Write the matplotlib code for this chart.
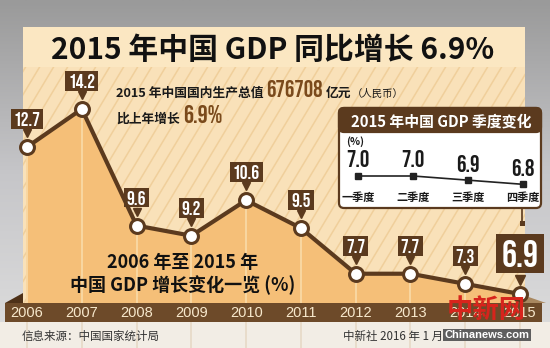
import os
import matplotlib
matplotlib.use("Agg")
import matplotlib.pyplot as plt
import numpy as np
from matplotlib import font_manager
from matplotlib.font_manager import FontProperties
from matplotlib.patches import Rectangle, FancyBboxPatch, Polygon
from matplotlib.colors import LinearSegmentedColormap
from matplotlib.transforms import offset_copy, blended_transform_factory

# data
years = [2006, 2007, 2008, 2009, 2010, 2011, 2012, 2013, 2014, 2015]
growth = [12.7, 14.2, 9.6, 9.2, 10.6, 9.5, 7.7, 7.7, 7.3, 6.9]
quarters = ["一季度", "二季度", "三季度", "四季度"]
q_growth = [7.0, 7.0, 6.9, 6.8]
gdp_total = "676708"
growth_2015 = "6.9%"

plt.rcParams['font.family'] = ['Noto Sans CJK SC', 'DejaVu Sans']

# a narrow bold face for the number boxes
files = {os.path.splitext(os.path.basename(f.fname))[0].lower(): f.fname
         for f in font_manager.fontManager.ttflist}
narrow_path = None
for key in ["leaguegothic-regular", "bebasneue-regular", "oswald-bold", "oswald-semibold",
            "sairaextracondensed-bold", "fjallaone-regular", "anton-regular",
            "barlowcondensed-bold", "firasansextracondensed-bold",
            "encodesanscondensed-bold", "dejavusanscondensed-bold"]:
    if key in files:
        narrow_path = files[key]
        break


def nf(size):
    if narrow_path:
        return FontProperties(fname=narrow_path, size=size)
    return FontProperties(family='DejaVu Sans', weight='bold', size=size)


BROWN = '#5b3a1e'
W, H = 550, 348

fig = plt.figure(figsize=(5.5, 3.48), dpi=100)

# background layer in pixel coords
bg = fig.add_axes([0, 0, 1, 1], zorder=0)
cmap = LinearSegmentedColormap.from_list('g', ['#9a9a9a', '#c6c6c9', '#dedede'])
bg.imshow(np.linspace(0, 1, 200).reshape(-1, 1), extent=[0, W, H, 0], cmap=cmap, aspect='auto')
bg.set_xlim(0, W)
bg.set_ylim(H, 0)
bg.axis('off')

bg.add_patch(Rectangle((23, 27), 502, 40, fc='#fbe7c2', ec='none'))
lower = Rectangle((23, 67), 502, 236, fc='#f9e1b9', ec='none')
bg.add_patch(lower)
for x0 in np.arange(-200, 560, 14):
    ln, = bg.plot([x0, x0 + 236 * 0.6], [303, 67], color='#f0cf9b', lw=1.1)
    ln.set_clip_path(lower)
bg.add_patch(Rectangle((0, 322), W, 26, fc='#f2ede5', ec='none'))
bg.add_patch(Polygon([(5, 303), (23, 293), (23, 303)], fc='#4e3118', ec='none'))
bg.add_patch(Polygon([(520, 294), (546, 303), (520, 303)], fc='#a8875f', ec='none'))

# data layer
ax = fig.add_axes([0, 0, 1, 1], zorder=2)
ax.patch.set_alpha(0)
ax.axis('off')
ax.set_xlim(2005.507, 2015.547)
ax.set_ylim(4.769, 18.502)
base = 6.545
ax.fill_between(years, growth, base, color='#f5bf78', lw=0)
ax.vlines(years, base, growth, color='#f9d7a2', lw=1.4)
ax.vlines(years, 4.769, 5.795, color='#e8dccb', lw=1.4)
ax.plot(years, growth, color=BROWN, lw=3, marker='o', ms=10, mfc='white',
        mec=BROWN, mew=2.2, zorder=3)

tip = offset_copy(ax.transData, fig=fig, x=0, y=14, units='dots')
for yr, v in zip(years, growth):
    big = yr == years[-1]
    ax.annotate(f'{v}', (yr, v), xytext=(0, 29.2 if big else 20.2), textcoords='offset points',
                ha='center', va='center', color='white', fontproperties=nf(27 if big else 14),
                bbox=dict(boxstyle='square,pad=0.15', fc=BROWN, ec='none'), zorder=4)
    ax.plot(yr, v, marker='v', ms=7 if big else 6, color=BROWN, transform=tip, zorder=4)

# overlay layer in pixel coords
ax2 = fig.add_axes([0, 0, 1, 1], zorder=3)
ax2.patch.set_alpha(0)
ax2.set_xlim(0, W)
ax2.set_ylim(H, 0)
ax2.axis('off')

ax2.add_patch(Rectangle((5, 303), 537, 19, fc='#6d4a29', ec='none'))
tr = blended_transform_factory(ax.transData, ax2.transData)
for yr in years:
    ax2.text(yr, 313, str(yr), transform=tr, ha='center', va='center', color='#f7e8cc',
             fontsize=10.5, family=['Liberation Sans', 'DejaVu Sans'])

ax2.text(273, 50, "2015 年中国 GDP 同比增长 6.9%", ha='center', va='center',
         fontsize=21.5, fontweight='bold', color='#111111')

# chained text pieces, each placed after the previous one
renderer = fig.canvas.get_renderer()


def chain(x, y, pieces):
    for s, kw, gap in pieces:
        t = ax2.text(x, y, s, ha='left', va='baseline', **kw)
        bb = t.get_window_extent(renderer)
        x += bb.width + gap


dark = dict(fontsize=9.2, fontweight='bold', color='#1a1a1a')
chain(116, 97, [("2015 年中国国内生产总值", dark, 3),
                (gdp_total, dict(fontproperties=nf(17), color='#7a4a1c'), 3),
                ("亿元", dark, 0),
                ("（人民币）", dict(fontsize=7.5, color='#1a1a1a'), 0)])
chain(116, 123, [("比上年增长", dark, 3),
                 (growth_2015, dict(fontproperties=nf(18), color='#7a4a1c'), 0)])

ax2.text(183, 263, "2006 年至 2015 年", ha='center', va='center', fontsize=13,
         fontweight='bold', color='#111111')
ax2.text(183, 285, "中国 GDP 增长变化一览 (%)", ha='center', va='center', fontsize=13,
         fontweight='bold', color='#111111')

ax2.text(22, 336, "信息来源：中国国家统计局", ha='left', va='center', fontsize=8.3, color='#333333')
ax2.text(343, 336, "中新社 2016 年 1 月", ha='left', va='center', fontsize=8.3, color='#333333')

# quarterly inset box
ax2.add_patch(FancyBboxPatch((339, 108), 202, 100, boxstyle='round,pad=0,rounding_size=5',
                             fc='white', ec=BROWN, lw=1.6))
ax2.add_patch(FancyBboxPatch((339, 108), 202, 24, boxstyle='round,pad=0,rounding_size=5',
                             fc=BROWN, ec=BROWN, lw=1.6))
ax2.add_patch(Rectangle((339, 120), 202, 12, fc=BROWN, ec='none'))
ax2.text(441, 121, "2015 年中国 GDP 季度变化", ha='center', va='center', fontsize=10.7,
         fontweight='bold', color='white')
ax2.text(346, 142, "(%)", ha='left', va='center', fontsize=7.5, fontweight='bold', color='#1a1a1a')
ax2.plot([522, 522], [208, 223], color=BROWN, lw=1.2)
ax2.add_patch(Rectangle((519.5, 221), 5, 5, fc=BROWN, ec='none'))

axq = fig.add_axes([358.3 / W, (H - 184.3) / H, (522.7 - 358.3) / W, (184.3 - 176) / H], zorder=4)
axq.patch.set_alpha(0)
axq.axis('off')
axq.set_xlim(0, len(quarters) - 1)
axq.set_ylim(6.8, 7.0)
qx = np.arange(len(quarters))
axq.plot(qx, q_growth, color='#222222', lw=1.2, marker='s', ms=4, clip_on=False)
for i, v in enumerate(q_growth):
    axq.annotate(f'{v:.1f}', (i, v), xytext=(0, 12.3), textcoords='offset points',
                 ha='center', va='center', fontproperties=nf(17), color='#1a1a1a',
                 annotation_clip=False)
trq = blended_transform_factory(axq.transData, ax2.transData)
for i, q in enumerate(quarters):
    ax2.text(i, 198, q, transform=trq, ha='center', va='center', fontsize=8,
             fontweight='bold', color='#1a1a1a')

# watermark
ax2.text(486, 311, "中新网", ha='center', va='center', fontsize=19, fontweight='bold',
         color='#d7241c', zorder=10)
ax2.text(487, 335, "Chinanews.com", ha='center', va='center', fontsize=8, fontweight='bold',
         color='white', family=['Liberation Sans', 'DejaVu Sans'], zorder=10,
         bbox=dict(boxstyle='square,pad=0.1', fc='#5e5e5e', ec='none'))

fig.savefig("out.png", dpi=100)
